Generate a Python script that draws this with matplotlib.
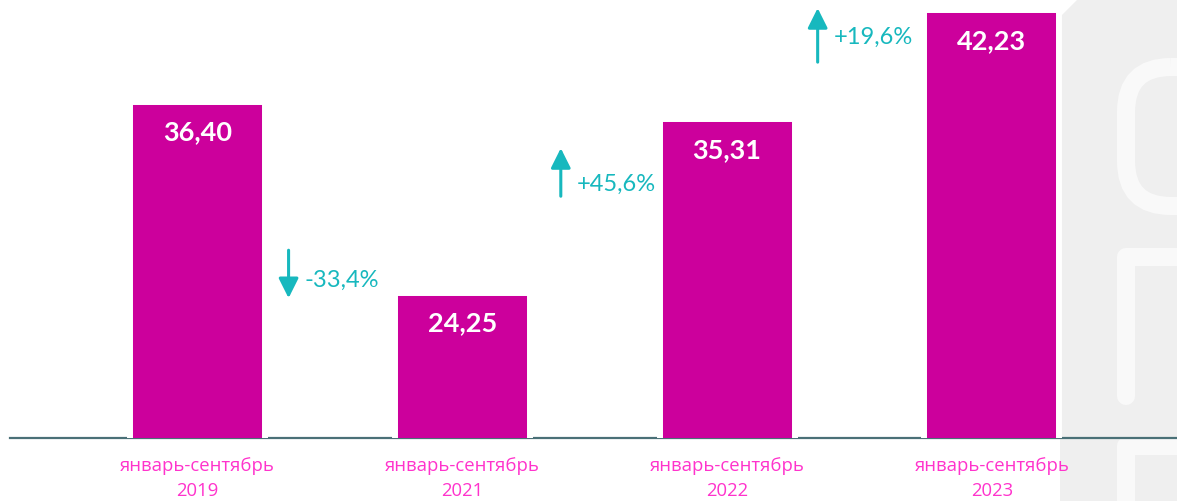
import matplotlib.pyplot as plt
import matplotlib.patches as mpatches
import numpy as np

# данные
periods = ['январь-сентябрь\n2019', 'январь-сентябрь\n2021', 'январь-сентябрь\n2022', 'январь-сентябрь\n2023']
values = [36.40, 24.25, 35.31, 42.23]
changes = ['-33,4%', '+45,6%', '+19,6%']

bar_col = '#CC009C'
lab_col = '#FF33CC'
teal = '#17B8BE'

fig = plt.figure(figsize=(11.77, 5.01), dpi=100)

# фон справа (декоративный логотип)
bg = fig.add_axes([0, 0, 1, 1], zorder=0)
bg.set_xlim(0, 1177)
bg.set_ylim(501, 0)
bg.axis('off')
bg.add_patch(mpatches.Polygon([(1060, 501), (1060, 17), (1077, 0), (1177, 0), (1177, 501)],
                              closed=True, facecolor='#EFEFEF', edgecolor='none'))
bg.add_patch(mpatches.FancyBboxPatch((1126, 67), 150, 139, boxstyle='round,pad=0,rounding_size=45',
                                     facecolor='none', edgecolor='#F9F9F9', linewidth=13))
bg.plot([1126, 1126, 1200], [396, 257, 257], color='#F9F9F9', lw=13,
        solid_capstyle='round', solid_joinstyle='round')
bg.plot([1126, 1126, 1200], [530, 446, 446], color='#F9F9F9', lw=13,
        solid_capstyle='round', solid_joinstyle='round')

ax = fig.add_axes([10 / 1177, 63 / 501, 1 - 10 / 1177, 438 / 501], zorder=1)
ax.patch.set_alpha(0)
ymin, ymax = 15.0, 15.0 + 438 / 15.7
x = np.arange(len(values))
ax.set_xlim(-0.708, 3.699)
ax.set_ylim(ymin, ymax)

ax.axhline(ymin, color='#4A7077', lw=1.6, zorder=1, clip_on=False)
ax.bar(x, values, width=0.51, color=bar_col, edgecolor='white', linewidth=4.3, zorder=2)

for xi, v in zip(x, values):
    ax.annotate(f'{v:.2f}'.replace('.', ','), (xi, v), xytext=(0, -22), textcoords='offset points',
                ha='center', va='center', color='white', fontsize=19.5, fontweight='bold',
                family=['Lato', 'DejaVu Sans'])

for xi, p in zip(x, periods):
    ax.annotate(p, (xi, ymin), xytext=(0, -14), textcoords='offset points',
                ha='center', va='top', color=lab_col, fontsize=13.3,
                family=['Open Sans', 'DejaVu Sans'], linespacing=1.5)

# стрелки изменений
arr_x = [0.344, 1.372, 2.342]
arr_y = [(26.96, 23.91), (30.40, 33.46), (38.94, 42.38)]
txt_y = [25.05, 31.17, 40.53]
for ch, ax_, (y0, y1), ty in zip(changes, arr_x, arr_y, txt_y):
    ax.annotate('', xy=(ax_, y1), xytext=(ax_, y0),
                arrowprops=dict(arrowstyle='-|>,head_length=0.6,head_width=0.3', color=teal,
                                lw=2.2, shrinkA=0, shrinkB=0, mutation_scale=20))
    ax.text(ax_ + 0.06, ty, ch, ha='left', va='center', color=teal, fontsize=17,
            family=['Lato', 'DejaVu Sans'])

ax.axis('off')
fig.savefig('out.png', dpi=100)
